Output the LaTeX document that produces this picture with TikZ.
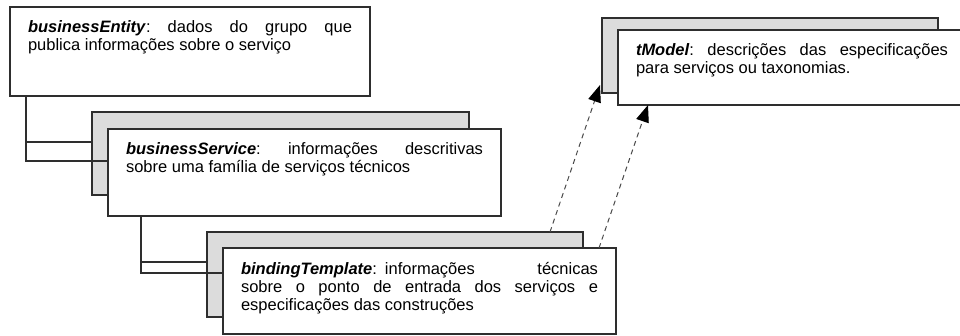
\documentclass[tikz,border=0pt]{standalone}
\usepackage{fontspec}
\setmainfont{Liberation Sans}
\usetikzlibrary{arrows.meta}
\definecolor{linegray}{HTML}{2E2E2E}
\definecolor{shadegray}{HTML}{DCDCDC}
\definecolor{dashgray}{HTML}{4A4A4A}

\begin{document}
\begin{tikzpicture}[x=1pt,y=-1pt,
  back/.style={draw=linegray,fill=shadegray,line width=1.2pt,inner sep=0pt,outer sep=0pt,anchor=north west},
  front/.style={draw=linegray,fill=white,line width=1.2pt,inner xsep=18pt,inner ysep=14pt,outer sep=0pt,anchor=north west,font=\fontsize{16.5}{18}\selectfont\frenchspacing},
  tree/.style={draw=linegray,line width=1.2pt},
  ref/.style={draw=dashgray,line width=1pt,dash pattern=on 5pt off 4pt,-{Triangle[length=17pt,width=13pt,color=black]}}]
\useasboundingbox (0,0) rectangle (960,336);
% \draw[help lines] (0,0) grid (960,336);
\node (bsback) [back,minimum width=377pt,minimum height=83pt] at (92,112) {};
\node (btback) [back,minimum width=376pt,minimum height=85pt] at (207,232) {};
\node (tmback) [back,minimum width=336pt,minimum height=75pt] at (602,18) {};
%
\node (be) [front] at (10,7) {\parbox[t][61pt][t]{324pt}{\textbf{\textit{businessEntity}}: dados do grupo que\linebreak publica informações sobre o serviço}};
\node (bs) [front] at (108,129) {\parbox[t][59pt][t]{357pt}{\textbf{\textit{businessService}}: informações descritivas\linebreak sobre uma família de serviços técnicos}};
\node (bt) [front] at (223,248) {\parbox[t][58pt][t]{357pt}{\textbf{\textit{bindingTemplate}}:\hspace{8pt}informações\hfill técnicas\linebreak sobre o ponto de entrada dos serviços e\linebreak especificações das construções}};
\node (tm) [front] at (618,30) {\parbox[t][47pt][t]{312pt}{\textbf{\textit{tModel}}: descrições das especificações\linebreak para serviços ou taxonomias.}};
%
\draw[tree] ([xshift=16pt]be.south west) |- ([yshift=-30pt]bsback.north west);
\draw[tree] ([xshift=16pt]be.south west) |- ([yshift=-32pt]bs.north west);
\draw[tree] ([xshift=33pt]bs.south west) |- ([yshift=-30pt]btback.north west);
\draw[tree] ([xshift=33pt]bs.south west) |- ([yshift=-25pt]bt.north west);
%
\draw[ref] ([xshift=-33pt]btback.north east) -- ([xshift=-2pt,yshift=8pt]tmback.south west);
\draw[ref] ([xshift=-17pt]bt.north east) -- ([xshift=30pt]tm.south west);
\end{tikzpicture}
\end{document}
